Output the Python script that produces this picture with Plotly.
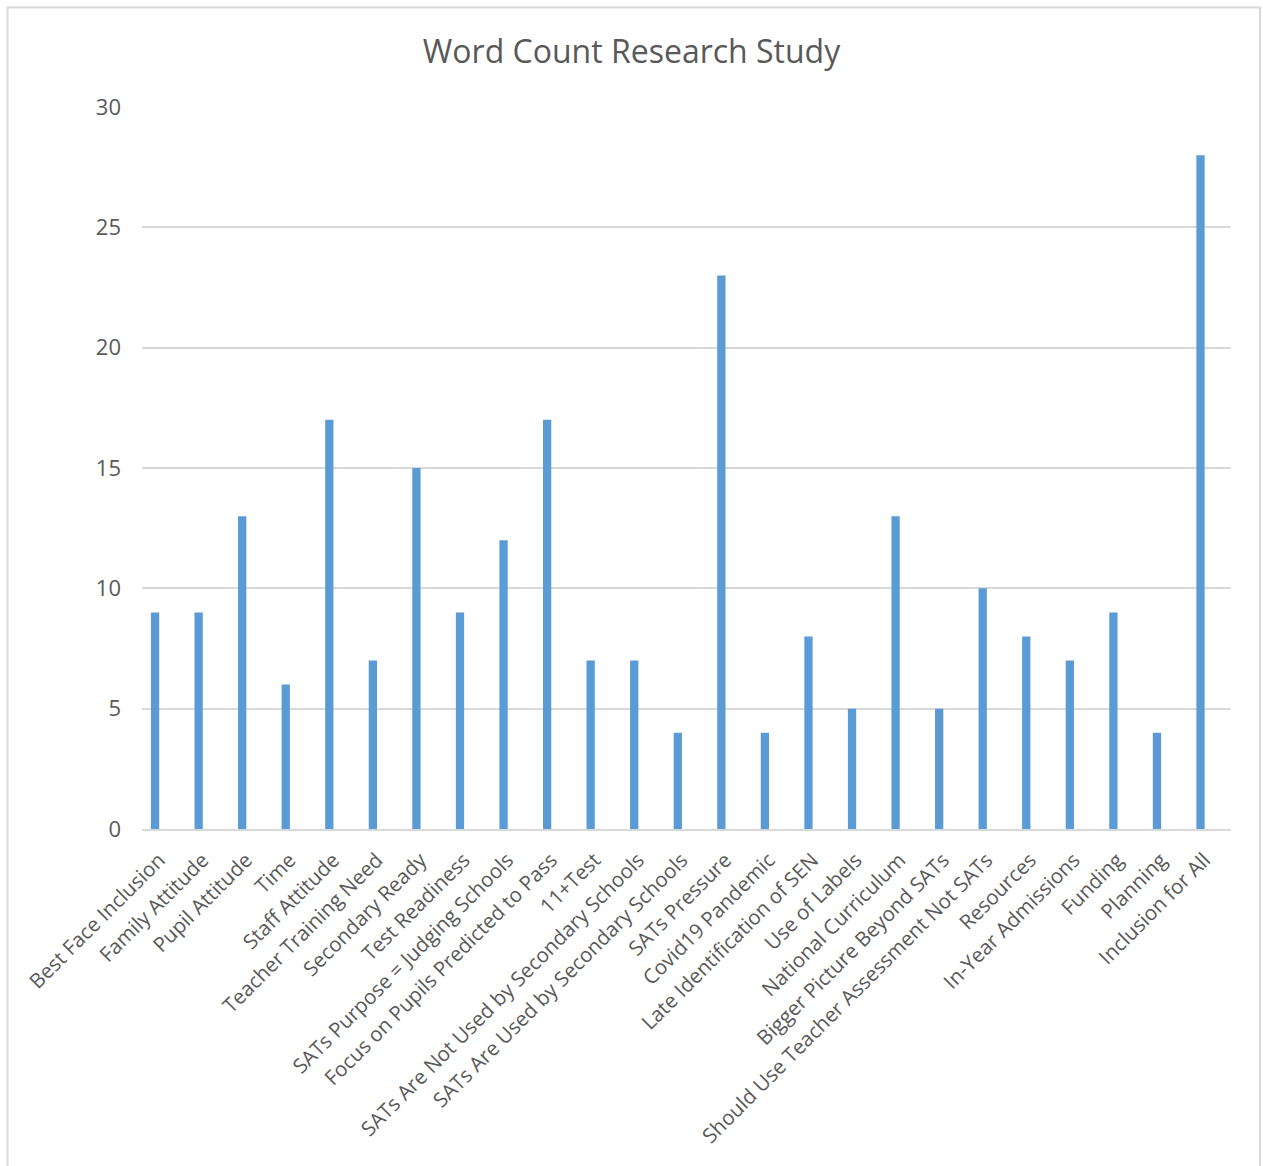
import plotly.graph_objects as go

# Themes and their word counts
categories = [
    "Best Face Inclusion", "Family Attitude", "Pupil Attitude", "Time",
    "Staff Attitude", "Teacher Training Need", "Secondary Ready",
    "Test Readiness", "SATs Purpose = Judging Schools",
    "Focus on Pupils Predicted to Pass", "11+Test",
    "SATs Are Not Used by Secondary Schools",
    "SATs Are Used by Secondary Schools", "SATs Pressure",
    "Covid19 Pandemic", "Late Identification of SEN", "Use of Labels",
    "National Curriculum", "Bigger Picture Beyond SATs",
    "Should Use Teacher Assessment Not SATs", "Resources",
    "In-Year Admissions", "Funding", "Planning", "Inclusion for All",
]
word_counts = [9, 9, 13, 6, 17, 7, 15, 9, 12, 17, 7, 7, 4, 23, 4, 8, 5, 13,
               5, 10, 8, 7, 9, 4, 28]
y_ticks = [0, 5, 10, 15, 20, 25, 30]

TEXT = "#595959"
GRID = "#d9d9d9"
FONT = "Open Sans"

W, H = 1263, 1166
ML, MR, MT, MB = 142, 32, 107, 337
pw, ph = W - ML - MR, H - MT - MB

fig = go.Figure(
    go.Bar(
        x=list(range(len(categories))),
        y=word_counts,
        marker=dict(color="#5b9bd5", line=dict(width=0)),
        width=0.19,
        hoverinfo="x+y",
    )
)

fig.update_layout(
    width=W,
    height=H,
    margin=dict(l=ML, r=MR, t=MT, b=MB),
    paper_bgcolor="white",
    plot_bgcolor="white",
    showlegend=False,
    title=dict(
        text="Word Count Research Study",
        x=0.5,
        xref="container",
        xanchor="center",
        y=1 - 52 / H,
        yanchor="middle",
        font=dict(family=FONT, size=32, color=TEXT),
    ),
    font=dict(family=FONT, color=TEXT),
    xaxis=dict(
        range=[-0.3, len(categories) - 0.3],
        tickmode="array",
        tickvals=list(range(len(categories))),
        ticktext=categories,
        tickangle=-45,
        tickfont=dict(family=FONT, size=20.5, color=TEXT),
        showgrid=False,
        showline=True,
        linecolor=GRID,
        linewidth=2,
        ticks="",
        ticklabelstandoff=9,
        ticklabelshift=4,
        zeroline=False,
        fixedrange=True,
    ),
    yaxis=dict(
        range=[0, 30],
        tickmode="array",
        tickvals=y_ticks,
        tickfont=dict(family=FONT, size=22, color=TEXT),
        showgrid=True,
        gridcolor=GRID,
        gridwidth=1.5,
        zeroline=False,
        showline=False,
        ticks="",
        ticklabelstandoff=20,
        fixedrange=True,
    ),
    shapes=[
        dict(
            type="rect",
            xref="paper",
            yref="paper",
            x0=(7.5 - ML) / pw,
            x1=(1260 - ML) / pw,
            y0=-(1180 - (H - MB)) / ph,
            y1=1 + (MT - 7.5) / ph,
            line=dict(color="#d9d9d9", width=2),
            layer="below",
        )
    ],
)

fig.write_html("out.html")
